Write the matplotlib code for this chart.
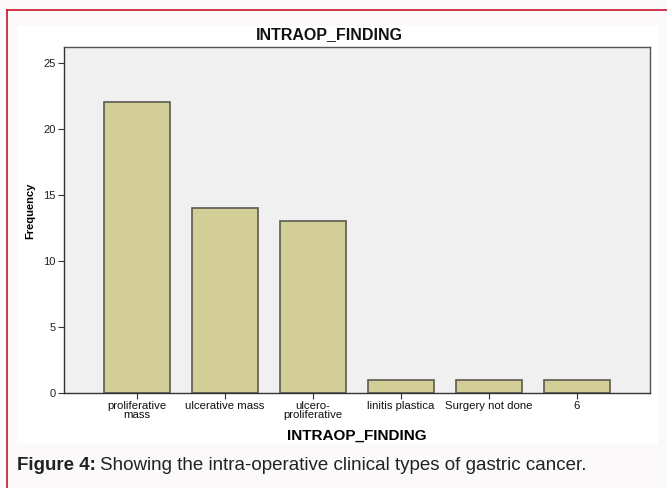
import matplotlib
matplotlib.use("Agg")
import matplotlib.pyplot as plt
from matplotlib.patches import Rectangle
from matplotlib.lines import Line2D

categories = ["proliferative\nmass", "ulcerative mass", "ulcero-\nproliferative",
              "linitis plastica", "Surgery not done", "6"]
frequencies = [22, 14, 13, 1, 1, 1]
yticks = [0, 5, 10, 15, 20, 25]

plt.rcParams['font.family'] = ['Liberation Sans', 'DejaVu Sans']

W, H = 667, 488
fig = plt.figure(figsize=(W/100, H/100), dpi=100)
fig.patch.set_facecolor('#fcf9fa')

# white chart panel
fig.add_artist(Rectangle((17/W, 1-444/H), (658-17)/W, (444-26)/H,
                         transform=fig.transFigure, facecolor='white', edgecolor='none', zorder=0))
# red border (left and top)
fig.add_artist(Line2D([7/W, 7/W], [0, 1-10/H], transform=fig.transFigure, color='#c8102e', lw=1.2))
fig.add_artist(Line2D([7/W, 1], [1-10/H, 1-10/H], transform=fig.transFigure, color='#c8102e', lw=1.2))

ax = fig.add_axes([64/W, 1-393/H, (650-64)/W, (393-47)/H])
ax.set_facecolor('#f0f0f0')
x = list(range(len(categories)))
ax.bar(x, frequencies, width=0.75, color='#d3ce98', edgecolor='#5a5a52', linewidth=1.2, zorder=2)
ax.set_xlim(-0.83, len(categories) - 1 + 0.83)
ax.set_ylim(0, 26.2)
ax.set_yticks(yticks)
ax.set_yticklabels([str(v) for v in yticks], fontsize=8, color='#222222')
ax.set_xticks(x)
ax.set_xticklabels(categories, fontsize=8.2, linespacing=0.8, color='#111111')
for s in ax.spines.values():
    s.set_color('#555555')
    s.set_linewidth(1.0)
ax.spines['left'].set_color('#333333')
ax.spines['bottom'].set_color('#333333')
ax.tick_params(axis='both', length=4, width=0.8, color='#333333', pad=2)

fig.text(329/W, 1-35/H, "INTRAOP_FINDING", fontsize=11.5, fontweight='bold',
         ha='center', va='center', color='#111111')
ax.set_xlabel("INTRAOP_FINDING", fontsize=11, fontweight='bold')
ax.xaxis.set_label_coords(0.5, -(436-393)/346)
ax.xaxis.label.set_va('center')
ax.set_ylabel("Frequency", fontsize=8, fontweight='bold')
ax.yaxis.set_label_coords((30-64)/586, (393-211)/346)
ax.yaxis.label.set_va('center')

t1 = fig.text(17/W, 1-465/H, "Figure 4:", fontsize=13.5, fontweight='bold', va='center', ha='left', color='#222222')
fig.canvas.draw()
bb = t1.get_window_extent()
fig.text((bb.x1 + 4)/W, 1-465/H, "Showing the intra-operative clinical types of gastric cancer.",
         fontsize=13.5, va='center', ha='left', color='#222222')

fig.savefig("out.png", dpi=100, facecolor=fig.get_facecolor())
